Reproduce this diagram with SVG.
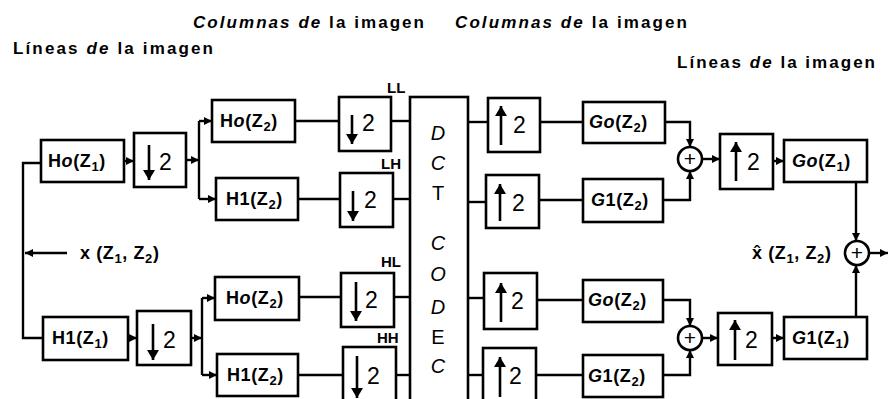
<svg xmlns="http://www.w3.org/2000/svg" width="890" height="399" viewBox="0 0 890 399">
<defs>
<marker id="ah" viewBox="0 0 8 8" refX="8" refY="4" markerWidth="8" markerHeight="8" markerUnits="userSpaceOnUse" orient="auto"><path d="M0,0 L8,4 L0,8 z" fill="#000"/></marker>
<marker id="big" viewBox="0 0 10 12" refX="10" refY="6" markerWidth="13" markerHeight="12" markerUnits="userSpaceOnUse" orient="auto"><path d="M0,0 L10,6 L0,12 z" fill="#000"/></marker>
</defs>
<style>
.box{fill:#fff;stroke:#000;stroke-width:2.6}
.w{fill:none;stroke:#000;stroke-width:2.4}
.sh{fill:none;stroke:#000;stroke-width:2.6}
.t{font-family:"Liberation Sans",Arial,sans-serif;font-size:18px;font-weight:bold;letter-spacing:0.6px;fill:#000}
.sub{font-size:13px}
.two{font-family:"Liberation Sans",Arial,sans-serif;font-size:23px;fill:#000}
.title{font-family:"Liberation Sans",Arial,sans-serif;font-size:17px;font-weight:bold;fill:#000}
.lab{font-family:"Liberation Sans",Arial,sans-serif;font-size:15px;font-weight:bold;fill:#000}
.dct{font-family:"Liberation Sans",Arial,sans-serif;font-size:20px;fill:#000;text-anchor:middle}
.plus{font-family:"Liberation Sans",Arial,sans-serif;font-size:21px;fill:#000;text-anchor:middle}
</style>
<rect width="890" height="399" fill="#fff"/>

<g id="titles">
<text class="title" x="193" y="28" textLength="231" lengthAdjust="spacing"><tspan font-style="italic">Columnas de</tspan> la imagen</text>
<text class="title" x="455" y="28" textLength="232" lengthAdjust="spacing"><tspan font-style="italic">Columnas de</tspan> la imagen</text>
<text class="title" x="13" y="54" textLength="200" lengthAdjust="spacing">Líneas <tspan font-style="italic">de</tspan> la imagen</text>
<text class="title" x="677" y="68" textLength="198" lengthAdjust="spacing">Líneas <tspan font-style="italic">de</tspan> la imagen</text>
</g>

<g id="connectors">
<path class="w" d="M41,163 H23 V338 H43"/>
<path class="w" d="M67,253 H25" marker-end="url(#ah)"/>
<path class="w" d="M124,161 H134" marker-end="url(#ah)"/>
<path class="w" d="M186,160 H199" marker-end="url(#ah)"/>
<path class="w" d="M199,121 V199"/>
<path class="w" d="M199,121 H212" marker-end="url(#ah)"/>
<path class="w" d="M199,199 H216" marker-end="url(#ah)"/>
<path class="w" d="M295,121 H339"/>
<path class="w" d="M298,199 H340"/>
<path class="w" d="M391,121 H410"/>
<path class="w" d="M393,199 H410"/>
<path class="w" d="M468,122 H488"/>
<path class="w" d="M468,202 H486"/>
<path class="w" d="M540,122 H583"/>
<path class="w" d="M539,200 H583"/>
<path class="w" d="M665,122 H690 V147" marker-end="url(#ah)"/>
<path class="w" d="M663,200 H690 V171" marker-end="url(#ah)"/>
<path class="w" d="M702,159 H720" marker-end="url(#ah)"/>
<path class="w" d="M773,161 H784" marker-end="url(#ah)"/>
<path class="w" d="M856,182 V241" marker-end="url(#ah)"/>
<path class="w" d="M856,317 V265" marker-end="url(#ah)"/>
<path class="w" d="M869,253 H888" marker-end="url(#ah)"/>

<path class="w" d="M128,338 H137" marker-end="url(#ah)"/>
<path class="w" d="M191,338 H202" marker-end="url(#ah)"/>
<path class="w" d="M202,298 V375"/>
<path class="w" d="M202,298 H215" marker-end="url(#ah)"/>
<path class="w" d="M202,375 H217" marker-end="url(#ah)"/>
<path class="w" d="M299,297 H341"/>
<path class="w" d="M298,375 H343"/>
<path class="w" d="M394,297 H410"/>
<path class="w" d="M396,375 H410"/>
<path class="w" d="M468,298 H484"/>
<path class="w" d="M468,375 H483"/>
<path class="w" d="M537,300 H583"/>
<path class="w" d="M536,375 H583"/>
<path class="w" d="M663,300 H690 V326" marker-end="url(#ah)"/>
<path class="w" d="M663,375 H690 V350" marker-end="url(#ah)"/>
<path class="w" d="M702,338 H718" marker-end="url(#ah)"/>
<path class="w" d="M772,338 H784" marker-end="url(#ah)"/>
</g>

<g id="input-label">
<text class="t" x="80" y="259">x (Z<tspan class="sub" dy="4">1</tspan><tspan dy="-4">, Z</tspan><tspan class="sub" dy="4">2</tspan><tspan dy="-4">)</tspan></text>
</g>

<g id="H0_Z1"><rect class="box" x="41" y="140" width="83" height="42"/><text class="t" x="48" y="167">H<tspan font-style="italic">o</tspan>(Z<tspan class="sub" dy="4">1</tspan><tspan dy="-4">)</tspan></text></g>
<g id="down_1a"><rect class="box" x="134" y="133" width="52" height="54"/><path class="sh" d="M149,145 V180" marker-end="url(#big)"/><text class="two" x="159" y="170">2</text></g>
<g id="H0_Z2a"><rect class="box" x="212" y="100" width="83" height="42"/><text class="t" x="220" y="127">H<tspan font-style="italic">o</tspan>(Z<tspan class="sub" dy="4">2</tspan><tspan dy="-4">)</tspan></text></g>
<g id="H1_Z2a"><rect class="box" x="216" y="178" width="82" height="42"/><text class="t" x="226" y="205">H1(Z<tspan class="sub" dy="4">2</tspan><tspan dy="-4">)</tspan></text></g>
<g id="down_LL"><rect class="box" x="339" y="97" width="52" height="54"/><path class="sh" d="M352,115 V144" marker-end="url(#big)"/><text class="two" x="362" y="131">2</text></g>
<g id="down_LH"><rect class="box" x="340" y="173" width="53" height="54"/><path class="sh" d="M353,191 V221" marker-end="url(#big)"/><text class="two" x="364" y="208">2</text></g>

<g id="H1_Z1"><rect class="box" x="43" y="317" width="85" height="43"/><text class="t" x="52" y="344">H1(Z<tspan class="sub" dy="4">1</tspan><tspan dy="-4">)</tspan></text></g>
<g id="down_1b"><rect class="box" x="137" y="311" width="54" height="54"/><path class="sh" d="M153,324 V360" marker-end="url(#big)"/><text class="two" x="163" y="348">2</text></g>
<g id="H0_Z2b"><rect class="box" x="215" y="277" width="84" height="43"/><text class="t" x="226" y="304">H<tspan font-style="italic">o</tspan>(Z<tspan class="sub" dy="4">2</tspan><tspan dy="-4">)</tspan></text></g>
<g id="H1_Z2b"><rect class="box" x="217" y="354" width="81" height="42"/><text class="t" x="227" y="381">H1(Z<tspan class="sub" dy="4">2</tspan><tspan dy="-4">)</tspan></text></g>
<g id="down_HL"><rect class="box" x="341" y="273" width="53" height="54"/><path class="sh" d="M356,282 V321" marker-end="url(#big)"/><text class="two" x="365" y="308">2</text></g>
<g id="down_HH"><rect class="box" x="343" y="347" width="53" height="60"/><path class="sh" d="M357,356 V398" marker-end="url(#big)"/><text class="two" x="367" y="384">2</text></g>

<g id="band_labels">
<text class="lab" x="387" y="93">LL</text>
<text class="lab" x="381" y="169">LH</text>
<text class="lab" x="381" y="267">HL</text>
<text class="lab" x="377" y="343">HH</text>
</g>

<g id="DCT_CODEC"><rect class="box" x="410" y="97" width="58" height="320"/>
<text class="dct" x="438" y="140" font-style="italic">D</text>
<text class="dct" x="438" y="170" font-style="italic">C</text>
<text class="dct" x="438" y="200">T</text>
<text class="dct" x="438" y="250" font-style="italic">C</text>
<text class="dct" x="438" y="281" font-style="italic">O</text>
<text class="dct" x="438" y="314" font-style="italic">D</text>
<text class="dct" x="438" y="344">E</text>
<text class="dct" x="438" y="373" font-style="italic">C</text>
</g>

<g id="up_LL"><rect class="box" x="488" y="98" width="52" height="54"/><path class="sh" d="M501,145 V106" marker-end="url(#big)"/><text class="two" x="513" y="133">2</text></g>
<g id="up_LH"><rect class="box" x="486" y="175" width="53" height="53"/><path class="sh" d="M500,221 V184" marker-end="url(#big)"/><text class="two" x="512" y="211">2</text></g>
<g id="up_HL"><rect class="box" x="484" y="273" width="53" height="56"/><path class="sh" d="M501,322 V283" marker-end="url(#big)"/><text class="two" x="511" y="309">2</text></g>
<g id="up_HH"><rect class="box" x="483" y="348" width="53" height="60"/><path class="sh" d="M500,397 V357" marker-end="url(#big)"/><text class="two" x="509" y="384">2</text></g>

<g id="G0_Z2a"><rect class="box" x="583" y="102" width="82" height="41"/><text class="t" x="589" y="128"><tspan font-style="italic">Go</tspan>(Z<tspan class="sub" dy="4">2</tspan><tspan dy="-4">)</tspan></text></g>
<g id="G1_Z2a"><rect class="box" x="583" y="179" width="80" height="43"/><text class="t" x="591" y="206"><tspan font-style="italic">G</tspan>1(Z<tspan class="sub" dy="4">2</tspan><tspan dy="-4">)</tspan></text></g>
<g id="G0_Z2b"><rect class="box" x="583" y="280" width="80" height="42"/><text class="t" x="588" y="306"><tspan font-style="italic">Go</tspan>(Z<tspan class="sub" dy="4">2</tspan><tspan dy="-4">)</tspan></text></g>
<g id="G1_Z2b"><rect class="box" x="583" y="355" width="80" height="42"/><text class="t" x="588" y="382"><tspan font-style="italic">G</tspan>1(Z<tspan class="sub" dy="4">2</tspan><tspan dy="-4">)</tspan></text></g>

<g id="sum_top"><circle class="box" cx="690" cy="159" r="12"/><text class="plus" x="690" y="166">+</text></g>
<g id="sum_bottom"><circle class="box" cx="690" cy="338" r="12"/><text class="plus" x="690" y="345">+</text></g>

<g id="up_right_top"><rect class="box" x="720" y="134" width="53" height="55"/><path class="sh" d="M736,181 V142" marker-end="url(#big)"/><text class="two" x="747" y="170">2</text></g>
<g id="up_right_bottom"><rect class="box" x="718" y="313" width="54" height="52"/><path class="sh" d="M735,360 V320" marker-end="url(#big)"/><text class="two" x="745" y="348">2</text></g>

<g id="G0_Z1"><rect class="box" x="784" y="140" width="83" height="42"/><text class="t" x="792" y="167"><tspan font-style="italic">Go</tspan>(Z<tspan class="sub" dy="4">1</tspan><tspan dy="-4">)</tspan></text></g>
<g id="G1_Z1"><rect class="box" x="784" y="317" width="83" height="42"/><text class="t" x="792" y="344"><tspan font-style="italic">G</tspan>1(Z<tspan class="sub" dy="4">1</tspan><tspan dy="-4">)</tspan></text></g>

<g id="sum_out"><circle class="box" cx="857" cy="253" r="12"/><text class="plus" x="857" y="260">+</text></g>

<g id="output-label">
<text class="t" x="752" y="259">x̂ (Z<tspan class="sub" dy="4">1</tspan><tspan dy="-4">, Z</tspan><tspan class="sub" dy="4">2</tspan><tspan dy="-4">)</tspan></text>
</g>
</svg>
